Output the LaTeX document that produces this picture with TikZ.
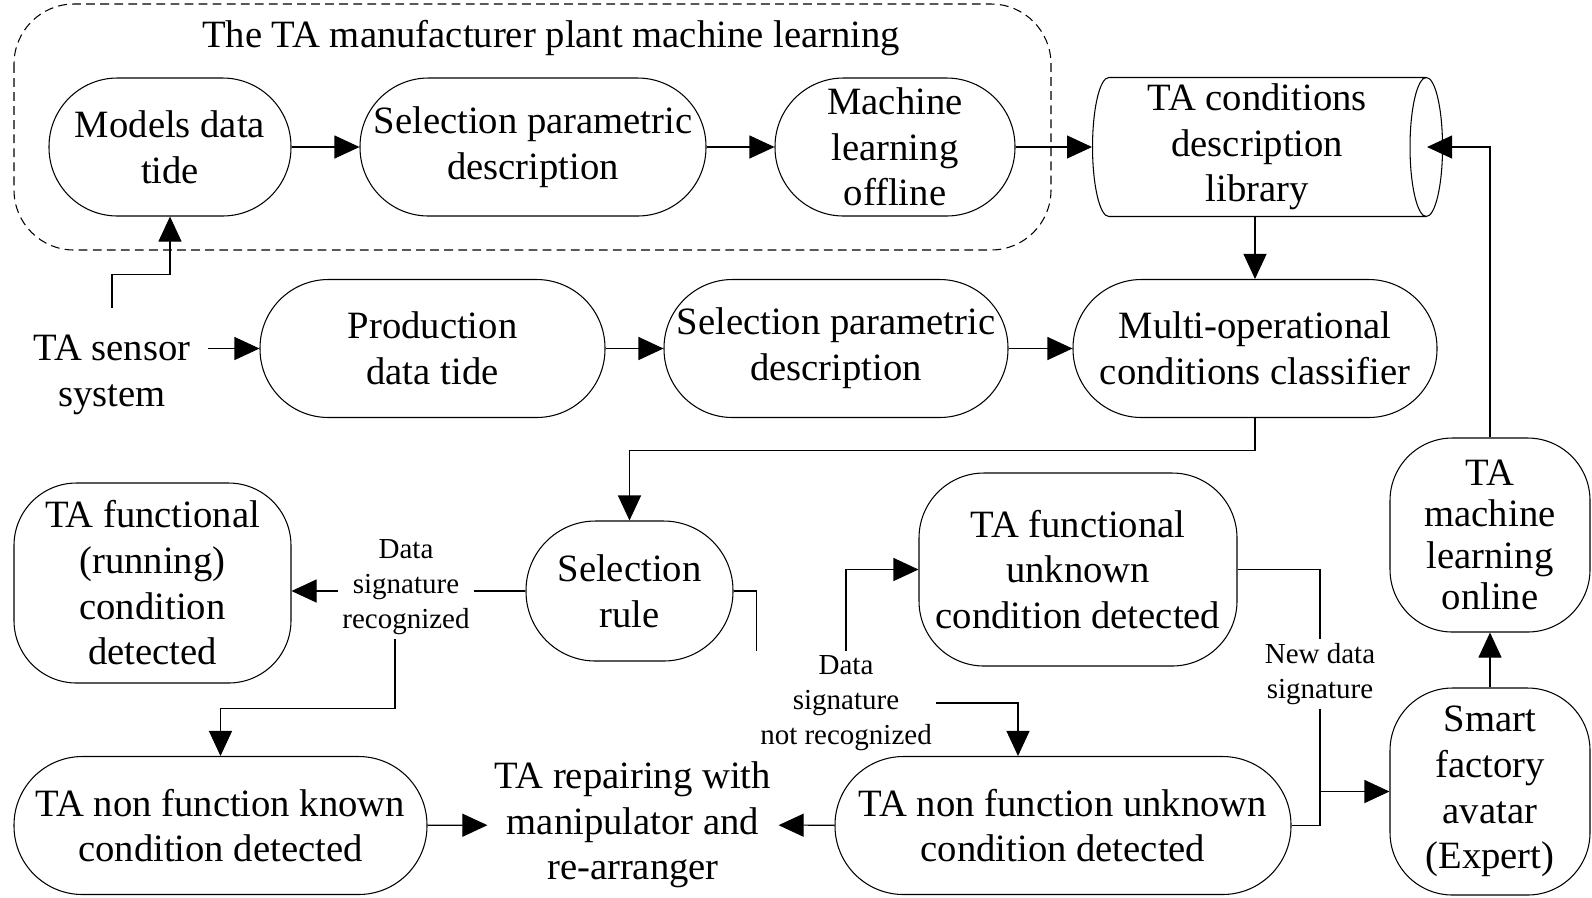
\documentclass[tikz,border=0pt]{standalone}
\usepackage{fontspec}
\setmainfont{Liberation Serif}
\usetikzlibrary{positioning, arrows.meta, shapes.geometric, calc}

\newcommand{\boxfont}{\fontsize{22}{26}\selectfont}
\newcommand{\notefont}{\fontsize{16.5}{20}\selectfont}

\tikzset{
  flow/.style={draw, align=center, inner sep=1pt, font=\boxfont},
  pill/.style={flow, minimum height=2.76cm, rounded corners=1.37cm},
  roundbox/.style={flow, rounded corners=1.25cm},
  note/.style={align=center, inner sep=2pt, font=\notefont},
  plain/.style={align=center, inner sep=4pt, font=\boxfont},
  arr/.style={-{Triangle[length=0.5cm,width=0.46cm]}},
}

\begin{document}
\begin{tikzpicture}[line width=0.6pt]
   \useasboundingbox (0,0) rectangle (31.84,-17.94);

   % offline learning stage in a dashed frame
   \draw[dash pattern=on 5pt off 3pt, rounded corners=1.2cm] (0.28,-0.08) rectangle (21.02,-5.0);
   \node[plain] (title) at (11.02,-0.76) {The TA manufacturer plant machine learning};

   \node[pill, minimum width=4.84cm] (models) at (3.40,-2.94) {Models data\\tide};
   \node[pill, minimum width=6.92cm] (selA) at (10.66,-2.94) {Selection parametric\\description};
   \node[pill, minimum width=4.80cm] (offline) at (17.90,-2.94) {Machine\\learning\\offline};
   \node[flow, cylinder, shape aspect=0.25, minimum width=2.78cm, minimum height=7.0cm, anchor=west] (lib) at (21.84,-2.94) {TA conditions\\description\\library};

   % online processing row
   \node[plain, outer sep=6pt] (sensor) at (2.24,-7.50) {TA sensor\\system};
   \node[pill, minimum width=6.90cm] (prod) at (8.65,-6.97) {Production\\data tide};
   \node[pill, minimum width=6.88cm] (selB) at (16.72,-6.97) {Selection parametric\\description};
   \node[pill, minimum width=7.28cm] (clf) at (25.10,-6.97) {Multi-operational\\conditions classifier};

   % decision and outcomes
   \node[roundbox, minimum width=5.54cm, minimum height=4.00cm] (func) at (3.05,-11.66) {TA functional\\(running)\\condition\\detected};
   \node[pill, minimum width=4.14cm, minimum height=2.80cm, rounded corners=1.39cm] (rule) at (12.59,-11.82) {Selection\\rule};
   \node[roundbox, minimum width=6.36cm, minimum height=3.86cm, rounded corners=1.3cm] (funk) at (21.56,-11.39) {TA functional\\unknown\\condition detected};
   \node[roundbox, minimum width=4.00cm, minimum height=3.88cm, font=\fontsize{22}{23.5}\selectfont] (online) at (29.80,-10.70) {TA\\machine\\learning\\online};

   \node[pill, minimum width=8.26cm] (known) at (4.41,-16.51) {TA non function known\\condition detected};
   \node[plain] (repair) at (12.66,-16.50) {TA repairing with\\manipulator and\\re-arranger};
   \node[pill, minimum width=9.12cm] (nunk) at (21.26,-16.51) {TA non function unknown\\condition detected};
   \node[roundbox, minimum width=4.00cm, minimum height=4.14cm] (avatar) at (29.80,-15.83) {Smart\\factory\\avatar\\(Expert)};

   % branch labels
   \node[note] (recog) at (8.12,-11.74) {Data\\signature\\recognized};
   \node[note] (unrecog) at (16.92,-14.06) {Data\\signature\\not recognized};
   \node[note] (newsig) at (26.40,-13.48) {New data\\signature};

   % connections
   \draw[arr] (models) -- (selA);
   \draw[arr] (selA) -- (offline);
   \draw[arr] (offline) -- (lib);
   \draw[arr] (lib.south -| clf.north) -- (clf.north);
   \draw[arr] (sensor.north) ++(0,0.20) -- ++(0,0.66) -| (models.south);
   \draw[arr] (sensor.east |- prod.west) -- (prod);
   \draw[arr] (prod) -- (selB);
   \draw[arr] (selB) -- (clf);
   \draw[arr] (clf.south) -- ++(0,-0.64) -| (rule.north);
   \draw (rule.west) -- (recog.east |- rule.west);
   \draw[arr] (recog.west |- rule.west) -- (func.east |- rule.west);
   \draw[arr] ([xshift=-0.22cm]recog.south) -- ++(0,-1.4) -| (known.north);
   \draw (rule.east) -| (unrecog.north west);
   \draw[arr] (unrecog.north) |- (funk.west);
   \draw[arr] (unrecog.east) -| ([xshift=-0.9cm]nunk.north);
   \draw (funk.east) -| (newsig.north);
   \draw (newsig.south) |- (nunk.east);
   \draw[arr] (newsig.south |- avatar.west) -- (avatar.west);
   \draw[arr] (avatar) -- (online);
   \draw[arr] (online.north) |- ([xshift=-0.32cm]lib.east);
   \draw[arr] (nunk) -- (repair);
   \draw[arr] (known) -- (repair);
\end{tikzpicture}
\end{document}
